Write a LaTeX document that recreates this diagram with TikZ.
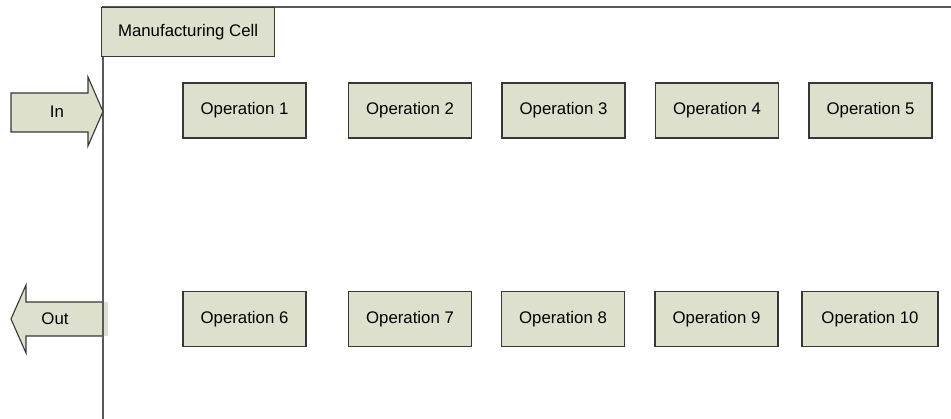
\documentclass[tikz,border=0pt]{standalone}
\usepackage{fontspec}
\setmainfont{Liberation Sans}
\definecolor{boxfill}{RGB}{221,224,204}
\definecolor{boxline}{RGB}{55,55,55}
\definecolor{frameline}{RGB}{90,90,90}
\begin{document}
\begin{tikzpicture}[x=1pt,y=-1pt,
  opbox/.style={draw=boxline,line width=1.2pt,fill=boxfill,minimum width=123pt,minimum height=55pt,inner sep=0pt,font=\fontsize{16.8}{19}\selectfont},
  framestyle/.style={draw=frameline,line width=1.5pt},
  arrowstyle/.style={draw=boxline,line width=1.1pt,fill=boxfill,line join=miter},
  lbl/.style={inner sep=0pt,font=\fontsize{16.8}{19}\selectfont}]
\useasboundingbox (0,0) rectangle (951,419);
% frame
\coordinate (ftr) at (951,7);
\coordinate (ftl) at (103,7);
\coordinate (fbl) at (103,419);
\draw[framestyle] (ftr) -- (ftl) -- (fbl);
% cell label
\node[opbox,minimum width=173pt,minimum height=49pt,anchor=north west] (cell) at (101,7) {Manufacturing Cell};
% operations row 1
\node[opbox] (op1) at (244.5,110.5) {Operation 1};
\node[opbox] (op2) at (410,110.5) {Operation 2};
\node[opbox] (op3) at (563.5,110.5) {Operation 3};
\node[opbox] (op4) at (717,110.5) {Operation 4};
\node[opbox] (op5) at (870.5,110.5) {Operation 5};
% operations row 2
\node[opbox] (op6) at (244.5,319) {Operation 6};
\node[opbox] (op7) at (410,319) {Operation 7};
\node[opbox] (op8) at (563,319) {Operation 8};
\node[opbox] (op9) at (716.5,319) {Operation 9};
\node[opbox,minimum width=136pt] (op10) at (870,319) {Operation 10};
% In arrow
\draw[arrowstyle] (11,93) -- (88,93) -- (88,77) -- (103,111.5) -- (88,146) -- (88,132) -- (11,132) -- cycle;
\node[lbl] (in) at (57,111.5) {In};
% Out arrow
\fill[boxfill] (108,302) -- (26,302) -- (26,285) -- (11,319) -- (26,353) -- (26,336) -- (108,336) -- cycle;
\draw[arrowstyle,fill=none] (103,302) -- (26,302) -- (26,285) -- (11,319) -- (26,353) -- (26,336) -- (103,336);
\node[lbl] (out) at (55,319) {Out};
\draw[framestyle] (103,280) -- (fbl);
\end{tikzpicture}
\end{document}
